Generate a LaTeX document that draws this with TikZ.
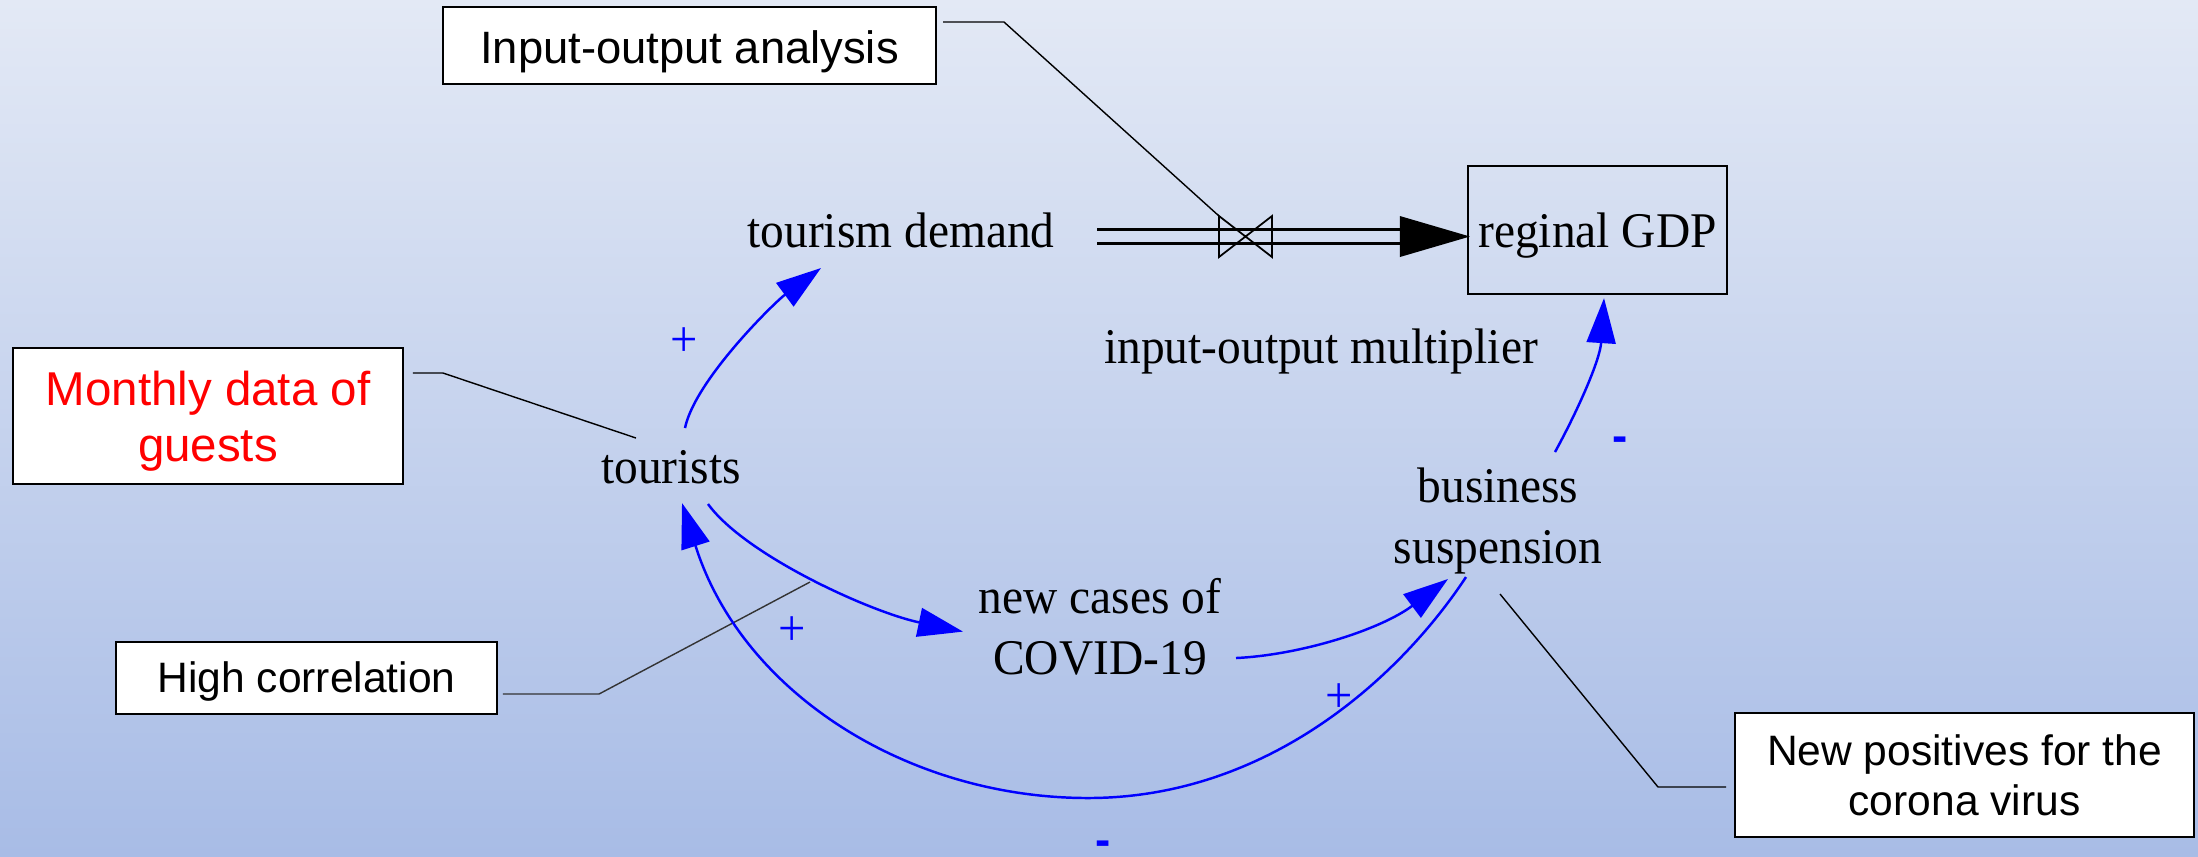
\documentclass[tikz,border=0pt]{standalone}
\usepackage{fontspec}
\setmainfont{Liberation Serif}[FakeStretch=0.95]
\setsansfont{Liberation Sans}
\usetikzlibrary{arrows.meta,calc}
\definecolor{bgtop}{RGB}{227,233,245}
\definecolor{bgbot}{RGB}{168,188,230}
\definecolor{lnk}{RGB}{0,0,255}
\tikzset{
  var/.style={font=\fontsize{14.2}{17.6}\selectfont, inner sep=0pt},
  varml/.style={var, align=center},
  cbox/.style={draw=black, line width=0.5pt, fill=white, inner sep=0pt},
  link/.style={draw=lnk, line width=0.7pt, -{Triangle[length=4.5mm,width=2.9mm]}},
  leader/.style={draw=black, line width=0.4pt},
  pol/.style={text=lnk, font=\fontsize{14.5}{17}\selectfont, inner sep=0pt},
  polneg/.style={text=lnk, font=\sffamily\bfseries\fontsize{13}{15}\selectfont, inner sep=0pt, anchor=base},
  pipe/.style={draw=black, line width=0.75pt},
}
\begin{document}
\begin{tikzpicture}[x=0.01cm, y=-0.01cm]
\shade[use as bounding box, top color=bgtop, bottom color=bgbot] (0,0) rectangle (2198,856);

% variables
\node[var, anchor=base] (td) at (901,247) {tourism demand};
\node[var, anchor=base] (tour) at (671,483) {tourists};
\node[var, anchor=base] (iom) at (1321,363) {input-output multiplier};
\node[varml] (nc) at (1100,631.6) {\strut new cases of\\\strut COVID-19};
\node[varml] (bs) at (1498,520.6) {\strut business\\\strut suspension};
\node[draw=black, line width=0.6pt, minimum width=2.59cm, minimum height=1.28cm,
      inner sep=0pt, font=\fontsize{14.2}{17.6}\selectfont, text height=9.7pt, text depth=0pt]
      (gdp) at (1597.5,230) {reginal GDP};

% comment boxes
\node[cbox, minimum width=4.93cm, minimum height=0.77cm, text height=10pt, text depth=0pt,
      font=\sffamily\fontsize{12.9}{15.5}\selectfont] (ioa) at (689.5,45.5) {Input-output analysis};
\node[cbox, align=center, minimum width=3.9cm, minimum height=1.36cm, text=red,
      font=\sffamily\fontsize{13.5}{16.2}\selectfont] (mon) at (208,416)
      {\rule{0pt}{14.8pt}\strut Monthly data of\\\strut guests};
\node[cbox, minimum width=3.81cm, minimum height=0.72cm, text height=8.5pt, text depth=0pt,
      font=\sffamily\fontsize{12.1}{14.5}\selectfont] (hc) at (306.5,678) {High correlation};
\node[cbox, align=center, minimum width=4.59cm, minimum height=1.24cm,
      font=\sffamily\fontsize{12.1}{14.2}\selectfont] (np) at (1964.5,775)
      {\rule{0pt}{12.8pt}\strut New positives for the\\\strut corona virus};

% flow with valve
\coordinate (valve) at (1245.5,236.5);
\coordinate (pipeL) at (1097,236.5);
\coordinate (pipeR) at ([shift={(3,6.5)}]gdp.west);
\draw[pipe] ([shift={(0,-7)}]pipeL) -- ([shift={(-70,-7)}]pipeR);
\draw[pipe] ([shift={(0,7)}]pipeL) -- ([shift={(-70,7)}]pipeR);
\fill[black] ([shift={(-70,-20.5)}]pipeR) -- (pipeR) -- ([shift={(-70,20.5)}]pipeR) -- cycle;
\draw[line width=0.5pt] ([shift={(-26.5,-20.5)}]valve) -- ([shift={(26.5,20.5)}]valve)
  -- ([shift={(26.5,-20.5)}]valve) -- ([shift={(-26.5,20.5)}]valve) -- cycle;

% leaders
\draw[leader] ([shift={(6,-23.5)}]ioa.east) -- (1004,22) -- ([shift={(-26.5,-20.5)}]valve);
\draw[leader] ([shift={(9,-43)}]mon.east) -- (443,373) -- ([shift={(-35,-45)}]tour.base);
\draw[leader, draw=black!80] ([shift={(5,16)}]hc.east) -- (599,694) -- ([shift={(139,99)}]tour.base);
\draw[leader] ([shift={(-8,12)}]np.west) -- (1658,787) -- ([shift={(2,73.4)}]bs.center);

% causal links
\draw[link] ([shift={(14,-55)}]tour.base) .. controls (695,380) and (775,302) .. ([shift={(-80,21)}]td.base);
\draw[link] ([shift={(37,21)}]tour.base) .. controls (745,555) and (870,612) .. ([shift={(-137,0)}]nc.center);
\draw[link] ([shift={(136,26.4)}]nc.center) .. controls (1300,655) and (1380,630) .. ([shift={(-50,58.4)}]bs.center);
\draw[link] ([shift={(-32,56.4)}]bs.center) .. controls (1400,677) and (1268,798) .. (1088,798)
  .. controls (908,798) and (742,693) .. ([shift={(11,20)}]tour.base);
\draw[link] ([shift={(57,-68.6)}]bs.center) .. controls (1578,410) and (1600,360) .. ([shift={(6.5,3)}]gdp.south);

% polarities
\node[pol] (p1) at (684,342) {+};
\node[pol] (p2) at (792,631) {+};
\node[pol] (p3) at (1339,698) {+};
\node[polneg] (m1) at (1103,855.5) {-};
\node[polneg] (m2) at (1620,451) {-};
\end{tikzpicture}
\end{document}
